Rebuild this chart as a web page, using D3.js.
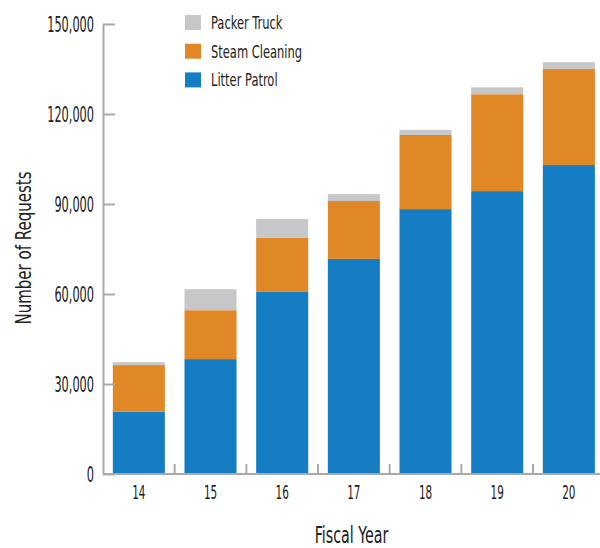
<!DOCTYPE html>
<html><head><meta charset="utf-8">
<script src="https://cdn.jsdelivr.net/npm/d3@7"></script>
<style>
html,body{margin:0;padding:0;background:#fff;}
svg{display:block;}
text{font-family:"Liberation Sans Narrow","DejaVu Sans Condensed","Roboto",sans-serif;fill:#222;}
</style></head>
<body>
<svg id="c" width="600" height="548"></svg>
<script>
const years = ["14","15","16","17","18","19","20"];
const seriesNames = ["Litter Patrol","Steam Cleaning","Packer Truck"];
const litterPatrol = [20800, 38300, 60700, 71700, 88300, 94300, 103000];
const steamCleaning = [15500, 16300, 18000, 19300, 24700, 32300, 32000];
const packerTruck = [1000, 7000, 6300, 2300, 1700, 2300, 2300];
const yTicks = [0, 30000, 60000, 90000, 120000, 150000];
const colors = {"Litter Patrol":"#157dc4","Steam Cleaning":"#e08826","Packer Truck":"#c6c7c9"};

const svg = d3.select("#c");
const x0 = 103, x1 = 604.7, yTop = 24, yBase = 474;

const rows = years.map((y,i)=>({year:y,"Litter Patrol":litterPatrol[i],"Steam Cleaning":steamCleaning[i],"Packer Truck":packerTruck[i]}));
const stack = d3.stack().keys(seriesNames)(rows);

const x = d3.scaleBand().domain(years).range([x0,x1]).paddingInner(0.274).paddingOuter(0.137);
const y = d3.scaleLinear().domain([0,150000]).range([yBase,yTop]);

// bars
svg.append("g").selectAll("g").data(stack).join("g")
  .attr("fill", d=>colors[d.key])
  .selectAll("rect").data(d=>d).join("rect")
  .attr("x", d=>x(d.data.year))
  .attr("width", x.bandwidth())
  .attr("y", d=>y(d[1]))
  .attr("height", d=>y(d[0])-y(d[1]));

// y axis
const yAxis = svg.append("g").attr("transform",`translate(${x0},0)`)
  .call(d3.axisLeft(y).tickValues(yTicks).tickSizeInner(-12).tickSizeOuter(0).tickPadding(9).tickFormat(d3.format(",")));
yAxis.select(".domain").attr("stroke","#aaa").attr("stroke-width",2);
yAxis.selectAll(".tick line").attr("stroke","#aaa").attr("stroke-width",2);
yAxis.selectAll(".tick text").each(function(){
  d3.select(this).attr("font-size",21).attr("fill","#222").attr("x",null).attr("dy","0.36em")
   .attr("transform",`translate(-9,0) scale(0.6,1)`);
});

// x axis
const xAxis = svg.append("g").attr("transform",`translate(0,${yBase})`)
  .call(d3.axisBottom(x).tickSize(0).tickPadding(0));
xAxis.select(".domain").attr("stroke","#aaa").attr("stroke-width",2).attr("d",`M${x0},0H600`);
xAxis.selectAll(".tick text").each(function(){
  d3.select(this).attr("font-size",20).attr("fill","#222").attr("y",null).attr("dy","0.36em")
   .attr("transform",`translate(0,18) scale(0.58,1)`);
});
// boundary ticks between categories
svg.append("g").selectAll("line").data(years.slice(1)).join("line")
  .attr("x1", d=>x(d)-x.step()*x.paddingInner()/2).attr("x2", d=>x(d)-x.step()*x.paddingInner()/2)
  .attr("y1", yBase).attr("y2", yBase-10)
  .attr("stroke","#aaa").attr("stroke-width",2);

// axis titles
svg.append("text").attr("font-size",22).attr("text-anchor","middle")
  .attr("transform",`translate(31,248) rotate(-90) scale(0.76,1)`).text("Number of Requests");
svg.append("text").attr("font-size",23).attr("text-anchor","middle")
  .attr("transform",`translate(351.5,543) scale(0.69,1)`).text("Fiscal Year");

// legend
const legendOrder = ["Packer Truck","Steam Cleaning","Litter Patrol"];
const lg = svg.append("g").selectAll("g").data(legendOrder).join("g")
  .attr("transform",(d,i)=>`translate(185,${15+i*28.7})`);
lg.append("rect").attr("width",16).attr("height",15).attr("fill",d=>colors[d]);
lg.append("text").attr("font-size",18).attr("dy","0.36em")
  .attr("transform",`translate(26,7.5) scale(0.71,1)`).text(d=>d);
</script>
</body></html>
